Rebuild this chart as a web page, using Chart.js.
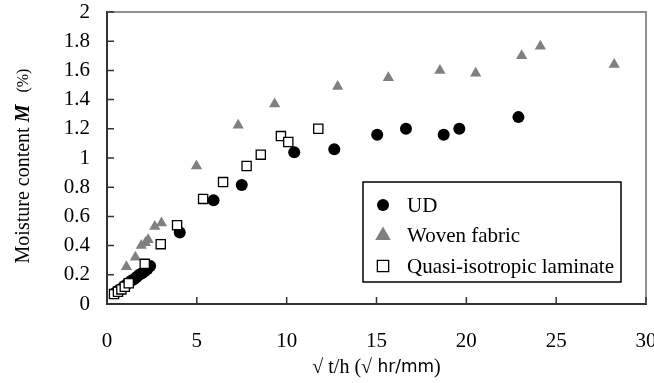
<!DOCTYPE html>
<html>
<head>
<meta charset="utf-8">
<script src="https://cdn.jsdelivr.net/npm/chart.js@4.4.1/dist/chart.umd.min.js"></script>
<style>
  html, body { margin: 0; padding: 0; background: #fff; }
  #wrap { width: 654px; height: 383px; }
</style>
</head>
<body>
<div id="wrap"><canvas id="chart" width="654" height="383"></canvas></div>
<script>
// values (x = sqrt(t)/h, y = moisture %)
const udX = [0.45, 0.6, 0.75, 0.9, 1.05, 1.2, 1.35, 1.5, 1.65, 1.8, 1.95, 2.1, 2.25, 2.4, 4.05, 5.93, 7.5, 10.42, 12.65, 15.04, 16.64, 18.74, 19.61, 22.9];
const udY = [0.075, 0.09, 0.10, 0.115, 0.13, 0.145, 0.16, 0.17, 0.185, 0.2, 0.21, 0.225, 0.24, 0.26, 0.49, 0.71, 0.815, 1.04, 1.06, 1.16, 1.2, 1.16, 1.2, 1.28];

const wovenX = [1.08, 1.58, 1.91, 2.14, 2.29, 2.66, 3.03, 4.98, 7.3, 9.33, 12.84, 15.66, 18.53, 20.52, 23.08, 24.12, 28.23];
const wovenY = [0.255, 0.32, 0.40, 0.42, 0.44, 0.53, 0.555, 0.945, 1.225, 1.37, 1.49, 1.55, 1.60, 1.58, 1.70, 1.765, 1.64];

const quasiX = [0.39, 0.61, 0.8, 0.99, 1.21, 2.1, 2.99, 3.9, 5.35, 6.46, 7.77, 8.56, 9.68, 10.09, 11.76];
const quasiY = [0.068, 0.084, 0.10, 0.118, 0.142, 0.275, 0.41, 0.54, 0.72, 0.835, 0.945, 1.023, 1.15, 1.11, 1.20];

const seriesNames = ['UD', 'Woven fabric', 'Quasi-isotropic laminate'];
const xTicks = [0, 5, 10, 15, 20, 25, 30];
const yTicks = [0, 0.2, 0.4, 0.6, 0.8, 1, 1.2, 1.4, 1.6, 1.8, 2];

const toPoints = (xs, ys) => xs.map((x, i) => ({x: x, y: ys[i]}));
const SERIF = '"Liberation Serif", "Times New Roman", serif';

const datasets = [{
    label: seriesNames[0],
    data: toPoints(udX, udY),
    pointStyle: 'circle',
    pointRadius: 6,
    backgroundColor: '#000',
    borderColor: '#000',
    borderWidth: 0,
    order: 2
  }, {
    label: seriesNames[1],
    data: toPoints(wovenX, wovenY),
    pointStyle: 'triangle',
    pointRadius: 6.5,
    backgroundColor: '#808080',
    borderColor: '#808080',
    borderWidth: 0,
    order: 1
  }, {
    label: seriesNames[2],
    data: toPoints(quasiX, quasiY),
    pointStyle: 'rect',
    pointRadius: 6.5,
    backgroundColor: '#fff',
    borderColor: '#000',
    borderWidth: 1.3,
    order: 0
  }];

// frame, inside ticks, axis titles and legend box
const decor = {
  id: 'decor',
  afterDatasetsDraw(chart) {
    const ctx = chart.ctx;
    const a = chart.chartArea;
    const xs = chart.scales.x, ys = chart.scales.y;
    ctx.save();
    // top / right frame in grey
    ctx.strokeStyle = '#909090';
    ctx.lineWidth = 2;
    ctx.beginPath();
    ctx.moveTo(a.left, a.top);
    ctx.lineTo(a.right, a.top);
    ctx.lineTo(a.right, a.bottom);
    ctx.stroke();
    // inside ticks
    ctx.strokeStyle = '#333';
    ctx.lineWidth = 1.5;
    ctx.beginPath();
    yTicks.forEach(v => {
      const p = ys.getPixelForValue(v);
      ctx.moveTo(a.left, p);
      ctx.lineTo(a.left + 7, p);
    });
    xTicks.forEach(v => {
      const p = xs.getPixelForValue(v);
      ctx.moveTo(p, a.bottom);
      ctx.lineTo(p, a.bottom - 7);
    });
    ctx.stroke();

    // y title, M in bold italic
    ctx.fillStyle = '#000';
    ctx.textBaseline = 'middle';
    ctx.translate(24, 166);
    ctx.rotate(-Math.PI / 2);
    const parts = [
      ['Moisture content ', '20px ' + SERIF],
      ['M', 'italic bold 20px ' + SERIF],
      ['   (%)', '16px ' + SERIF]
    ];
    let total = 0;
    parts.forEach(p => { ctx.font = p[1]; total += ctx.measureText(p[0]).width; });
    let cx = -total / 2;
    ctx.textAlign = 'left';
    parts.forEach(p => { ctx.font = p[1]; ctx.fillText(p[0], cx, 0); cx += ctx.measureText(p[0]).width; });
    ctx.setTransform(1, 0, 0, 1, 0, 0);

    // x title
    const xparts = [
      ['\u221A t/h (', '20px ' + SERIF],
      ['\u221A', '20px ' + SERIF],
      [' hr/mm', '17px "DejaVu Sans", sans-serif'],
      [')', '20px ' + SERIF]
    ];
    total = 0;
    xparts.forEach(p => { ctx.font = p[1]; total += ctx.measureText(p[0]).width; });
    cx = (a.left + a.right) / 2 - total / 2;
    xparts.forEach(p => { ctx.font = p[1]; ctx.fillText(p[0], cx, 368); cx += ctx.measureText(p[0]).width; });

    // legend
    const lx = 363, ly = 182, lw = 258, lh = 100;
    ctx.fillStyle = '#fff';
    ctx.fillRect(lx, ly, lw, lh);
    ctx.strokeStyle = '#000';
    ctx.lineWidth = 1.5;
    ctx.strokeRect(lx, ly, lw, lh);
    chart.data.datasets.forEach((ds, i) => {
      const yy = ly + 23 + i * 30.5;
      ctx.fillStyle = ds.backgroundColor;
      ctx.strokeStyle = ds.borderColor;
      ctx.lineWidth = ds.borderWidth;
      Chart.helpers.drawPoint(ctx, {
        pointStyle: ds.pointStyle,
        radius: ds.pointStyle === 'triangle' ? 9 : (ds.pointStyle === 'rect' ? 8 : 6),
        borderWidth: ds.borderWidth
      }, 383, yy);
      ctx.fillStyle = '#000';
      ctx.font = '21px ' + SERIF;
      ctx.textAlign = 'left';
      ctx.fillText(ds.label, 407, yy + 1);
    });
    ctx.restore();
  }
};

new Chart(document.getElementById('chart'), {
  type: 'scatter',
  data: { datasets: datasets },
  options: {
    responsive: false,
    animation: false,
    layout: { padding: { top: 12, right: 8, left: 0, bottom: 0 } },
    plugins: { legend: { display: false }, tooltip: { enabled: false } },
    scales: {
      x: {
        type: 'linear',
        min: 0, max: 30,
        afterBuildTicks: s => { s.ticks = xTicks.map(v => ({value: v})); },
        afterFit: s => { s.height = 79; s.paddingLeft = 0; s.paddingRight = 0; },
        grid: { display: false, drawTicks: false },
        border: { display: true, color: '#333', width: 2 },
        ticks: { color: '#000', padding: 25, maxRotation: 0, autoSkip: false, font: { family: SERIF, size: 21 } }
      },
      y: {
        type: 'linear',
        min: 0, max: 2,
        afterBuildTicks: s => { s.ticks = yTicks.map(v => ({value: v})); },
        afterFit: s => { s.width = 107; s.paddingTop = 0; s.paddingBottom = 0; },
        grid: { display: false, drawTicks: false },
        border: { display: true, color: '#333', width: 2 },
        ticks: {
          color: '#000', padding: 17, autoSkip: false, font: { family: SERIF, size: 21 },
          callback: v => String(Math.round(v * 10) / 10)
        }
      }
    }
  },
  plugins: [decor]
});
</script>
</body>
</html>
